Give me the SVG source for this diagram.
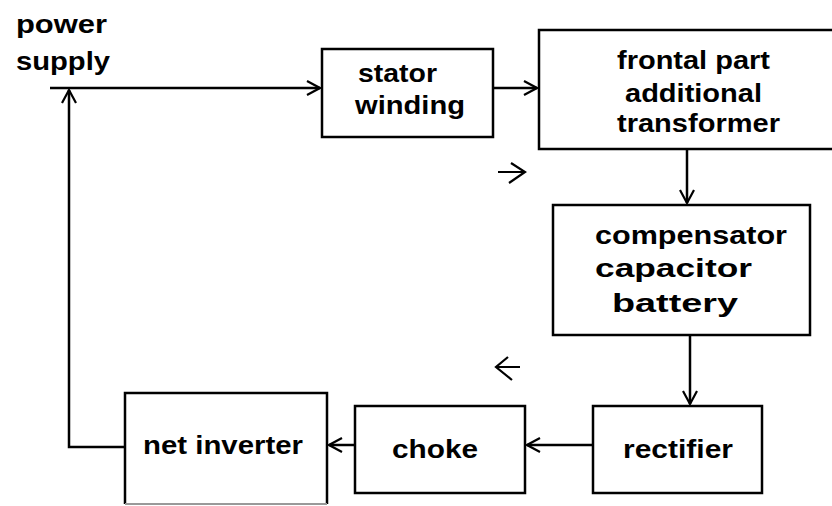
<svg xmlns="http://www.w3.org/2000/svg" width="832" height="506" viewBox="0 0 832 506">
<style>
.box{fill:#fff;stroke:#000;stroke-width:2.5}
.t{font-family:"Liberation Sans",Arial,sans-serif;font-weight:bold;font-size:25px;fill:#000}
.c{fill:none;stroke:#000;stroke-width:2.5}
.h{fill:none;stroke:#000;stroke-width:2.2}
</style>
<defs>
<marker id="ah" markerUnits="userSpaceOnUse" viewBox="-15 -9 17 18" refX="0" refY="0" markerWidth="17" markerHeight="18" orient="auto">
<path d="M-13,-7 L0,0 L-13,7" fill="none" stroke="#000" stroke-width="2.2"/>
</marker>
</defs>
<rect width="832" height="506" fill="#fff"/>
<g id="power-supply">
<text class="t" x="16" y="33" textLength="91" lengthAdjust="spacingAndGlyphs">power</text>
<text class="t" x="16" y="70" textLength="94" lengthAdjust="spacingAndGlyphs">supply</text>
</g>
<g id="stator-winding">
<rect class="box" x="322" y="49" width="171" height="88"/>
<text class="t" x="358" y="82" textLength="79" lengthAdjust="spacingAndGlyphs">stator</text>
<text class="t" x="355" y="114" textLength="110" lengthAdjust="spacingAndGlyphs">winding</text>
</g>
<g id="frontal-part">
<rect class="box" x="539" y="30" width="300" height="119"/>
<text class="t" x="617" y="69" textLength="153" lengthAdjust="spacingAndGlyphs">frontal part</text>
<text class="t" x="625" y="102" textLength="137" lengthAdjust="spacingAndGlyphs">additional</text>
<text class="t" x="617" y="132" textLength="163" lengthAdjust="spacingAndGlyphs">transformer</text>
</g>
<g id="compensator">
<rect class="box" x="553" y="205" width="257" height="130"/>
<text class="t" x="595" y="244" textLength="192" lengthAdjust="spacingAndGlyphs">compensator</text>
<text class="t" x="595" y="277" textLength="157" lengthAdjust="spacingAndGlyphs">capacitor</text>
<text class="t" x="612" y="312" textLength="126" lengthAdjust="spacingAndGlyphs">battery</text>
</g>
<g id="rectifier">
<rect class="box" x="593" y="406" width="169" height="87"/>
<text class="t" x="623" y="458" textLength="110" lengthAdjust="spacingAndGlyphs">rectifier</text>
</g>
<g id="choke">
<rect class="box" x="355" y="406" width="170" height="87"/>
<text class="t" x="392" y="458" textLength="86" lengthAdjust="spacingAndGlyphs">choke</text>
</g>
<g id="net-inverter">
<path class="box" d="M125,504 V393 H327 V504"/>
<path d="M125,504 H327" stroke="#999" stroke-width="2" fill="none"/>
<text class="t" x="143" y="454" textLength="160" lengthAdjust="spacingAndGlyphs">net inverter</text>
</g>
<g id="connectors">
<path class="c" d="M50,88 H320" marker-end="url(#ah)"/>
<path class="c" d="M125,447 H69 V90" marker-end="url(#ah)"/>
<path class="c" d="M493,88 H537" marker-end="url(#ah)"/>
<path class="c" d="M687,149 V203" marker-end="url(#ah)"/>
<path class="c" d="M690,335 V404" marker-end="url(#ah)"/>
<path class="c" d="M593,445 H527" marker-end="url(#ah)"/>
<path class="c" d="M355,445 H329" marker-end="url(#ah)"/>
<path class="h" d="M498,172 H525 M511,163 L525,172 L509,183"/>
<path class="h" d="M520,367 H496 M508,357 L496,367 L512,380"/>
</g>
</svg>
